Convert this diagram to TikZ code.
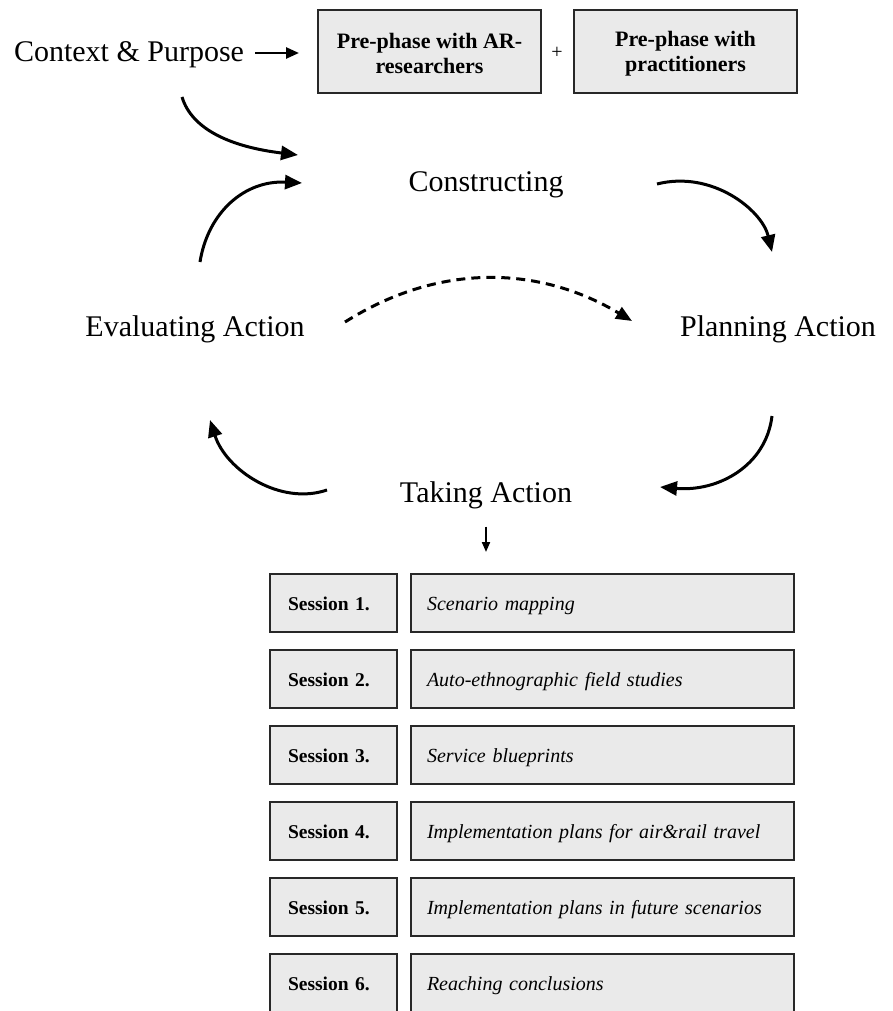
\documentclass[tikz,border=0pt]{standalone}
\usepackage{fontspec}
\setmainfont{Liberation Serif}
\usetikzlibrary{arrows.meta,calc}
\definecolor{boxfill}{RGB}{234,234,234}
\definecolor{boxline}{RGB}{40,40,40}
\begin{document}
\begin{tikzpicture}[x=1pt,y=-1pt,
  phase/.style={font=\fontsize{30}{36}\selectfont, inner sep=0pt, anchor=base},
  prebox/.style={draw=boxline, line width=2pt, fill=boxfill, minimum width=223pt,
    minimum height=83pt, inner sep=0pt},
  pretext/.style={align=center, inner sep=0pt, yshift=-2pt,
    font=\fontsize{22}{25}\selectfont\bfseries},
  sesbox/.style={draw=boxline, line width=2pt, fill=boxfill, anchor=north west,
    minimum height=58pt, inner ysep=0pt, inner xsep=18pt, text width=91pt,
    align=left, text height=15pt, text depth=1pt,
    font=\fontsize{19.5}{24}\selectfont\bfseries},
  descbox/.style={draw=boxline, line width=2pt, fill=boxfill, anchor=north west,
    minimum height=58pt, inner ysep=0pt, inner xsep=16pt, text width=351pt,
    align=left, text height=15pt, text depth=1pt,
    font=\fontsize{20}{24}\selectfont\itshape},
  cycle/.style={line width=3pt, -{Triangle[length=17pt,width=14pt]}},
  hint/.style={line width=3pt, dash pattern=on 9pt off 6pt, -{Triangle[length=16pt,width=13pt]}},
  lead/.style={line width=2.5pt, -{Triangle[length=13pt,width=11pt]}},
  drop/.style={line width=2pt, -{Triangle[length=10pt,width=8pt]}}
]
\useasboundingbox (0,0) rectangle (892,1011);

% pre-phase row
\node[phase] (ctx) at (129,62) {Context \& Purpose};
\node[prebox] (pre1) at (429.5,51.5) {};
\node[prebox] (pre2) at (685.5,51.5) {};
\node[pretext] (pre1t) at (pre1.center) {Pre-phase with AR-\\researchers};
\node[pretext] (pre2t) at (pre2.center) {Pre-phase with\\practitioners};
\node[font=\fontsize{20}{22}\selectfont, inner sep=0pt] (plus) at (557,53) {+};
\draw[lead, shorten <=11pt, shorten >=18pt] (ctx.east |- 0,53) -- (pre1.west |- 0,53);

% action research cycle
\node[phase] (con) at (486,192) {Constructing};
\node[phase] (eva) at (195,336) {Evaluating Action};
\node[phase] (pla) at (778,336) {Planning Action};
\node[phase] (tak) at (486,502) {Taking Action};

\coordinate (a1s) at (182,97);   \coordinate (a1e) at (298,155);
\coordinate (a2s) at (200,262);  \coordinate (a2e) at (302,183);
\coordinate (a3s) at (657,184);  \coordinate (a3e) at (772,252);
\coordinate (a4s) at (772,416);  \coordinate (a4e) at (660,487);
\coordinate (a5s) at (327,490);  \coordinate (a5e) at (210,420);
\coordinate (a6s) at (345,322);  \coordinate (a6e) at (632,321);

\draw[cycle] (a1s) .. controls (192,130) and (232,147) .. (a1e);
\draw[cycle] (a2s) .. controls (208,212) and (245,180) .. (a2e);
\draw[cycle] (a3s) .. controls (712,170) and (762,210) .. (a3e);
\draw[cycle] (a4s) .. controls (766,466) and (718,492) .. (a4e);
\draw[cycle] (a5s) .. controls (280,506) and (226,470) .. (a5e);
\draw[hint]  (a6s) .. controls (440,262) and (540,266) .. (a6e);

% sessions
\foreach \i/\t in {1/Scenario mapping,
                   2/Auto-ethnographic field studies,
                   3/Service blueprints,
                   4/Implementation plans for air\&rail travel,
                   5/Implementation plans in future scenarios,
                   6/Reaching conclusions}{
  \node[sesbox] (s\i) at (269,{573+76*(\i-1)}) {Session \i.};
  \node[descbox] (d\i) at (410,{573+76*(\i-1)}) {\mbox{\t}};
}
\draw[drop, shorten <=18pt, shorten >=21pt] (tak.south) -- (tak.south |- d1.north);
\end{tikzpicture}
\end{document}
